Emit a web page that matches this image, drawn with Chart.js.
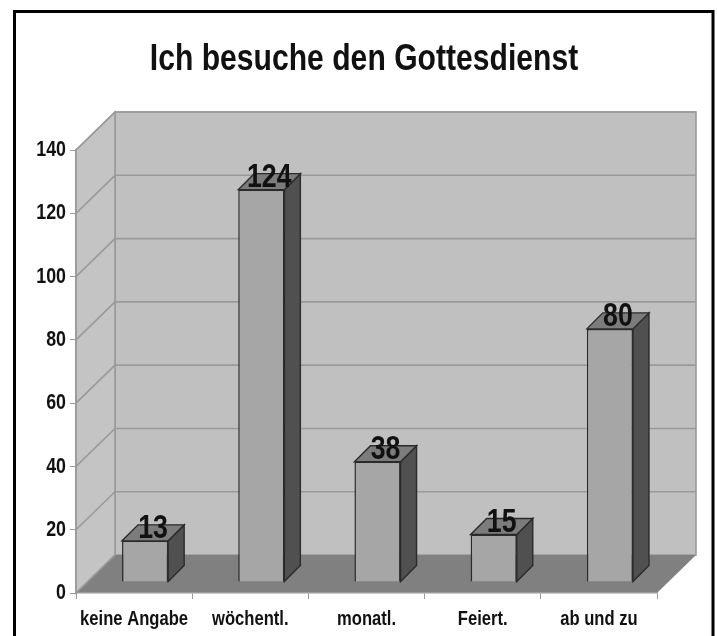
<!DOCTYPE html>
<html><head><meta charset="utf-8">
<script src="https://cdn.jsdelivr.net/npm/chart.js@4"></script>
<style>
html,body{margin:0;padding:0;background:#fff}
#wrap{position:relative;width:717px;height:636px;overflow:hidden}
canvas{filter:blur(0.7px)}
</style></head><body>
<div id="wrap"><canvas id="c" width="717" height="636"></canvas></div>
<script>
const categories = ["keine Angabe","wöchentl.","monatl.","Feiert.","ab und zu"];
const values = [13,124,38,15,80];
const yTicks = [0,20,40,60,80,100,120,140];
const chartTitle = "Ich besuche den Gottesdienst";
const FONT = '"Liberation Sans",Arial,sans-serif';
const NARROW = 0.81;
const WALL_DX = 39, WALL_DY = 38, BAR_OFF = 11, BAR_DEPTH = 16;
const C = {wall:'#c0c0c0', side:'#c4c4c4', floor:'#808080', grid:'#9a9a9a', face:'#a6a6a6', barSide:'#505050', barTop:'#7c7c7c', edge:'#2b2b2b', text:'#111111'};

function poly(ctx, pts, fill, stroke, lw){
  ctx.beginPath();
  pts.forEach((p,i)=> i?ctx.lineTo(p[0],p[1]):ctx.moveTo(p[0],p[1]));
  ctx.closePath();
  if(fill){ctx.fillStyle=fill;ctx.fill();}
  if(stroke){ctx.strokeStyle=stroke;ctx.lineWidth=lw||1;ctx.stroke();}
}
const canvas = document.getElementById('c');
// the reference's type is a condensed Arial: squeeze every text horizontally about its anchor
const rawCtx = canvas.getContext('2d');
const rawFill = rawCtx.fillText.bind(rawCtx);
rawCtx.fillText = function(t,x,y){
  rawCtx.save();rawCtx.translate(x,y);rawCtx.scale(NARROW,1);
  rawFill(t,0,0);
  rawCtx.restore();
};
const scene = {
  id:'scene',
  afterLayout(chart){
    chart.titleBlock.right -= 5;
  },
  beforeDraw(chart){
    const ctx=chart.ctx;
    ctx.save();
    ctx.fillStyle='#fff';ctx.fillRect(0,0,chart.width,chart.height);
    ctx.strokeStyle='#000';ctx.lineWidth=3;
    ctx.strokeRect(14.5,11.5,698.5,640);
    const a=chart.chartArea, y=chart.scales.y;
    const L=a.left,R=a.right,T=a.top,B=a.bottom,dx=WALL_DX,dy=WALL_DY;
    poly(ctx,[[L+dx,T-dy],[R+dx,T-dy],[R+dx,B-dy],[L+dx,B-dy]],C.wall,C.grid,1.6);
    poly(ctx,[[L,T],[L+dx,T-dy],[L+dx,B-dy],[L,B]],C.side,C.grid,1.6);
    poly(ctx,[[L,B],[L+dx,B-dy],[R+dx,B-dy],[R,B]],C.floor);
    ctx.strokeStyle=C.grid;ctx.lineWidth=1.6;
    yTicks.forEach(t=>{
      const p=y.getPixelForValue(t);
      ctx.beginPath();ctx.moveTo(L,p);ctx.lineTo(L+dx,p-dy);
      if(t>0)ctx.lineTo(R+dx,p-dy);
      ctx.stroke();
    });
    ctx.restore();
  },
  beforeDatasetsDraw(chart){
    const ctx=chart.ctx;
    const meta=chart.getDatasetMeta(0);
    ctx.save();
    ctx.translate(BAR_OFF,-BAR_OFF);
    meta.data.forEach(b=>{
      const l=b.x-b.width/2,r=b.x+b.width/2,t=b.y,bo=b.base,d=BAR_DEPTH;
      poly(ctx,[[r,t],[r+d,t-d],[r+d,bo-d],[r,bo]],C.barSide,C.edge,1.4);
      poly(ctx,[[l,t],[l+d,t-d],[r+d,t-d],[r,t]],C.barTop,C.edge,1.4);
    });
  },
  afterDatasetsDraw(chart){
    const ctx=chart.ctx;
    ctx.restore();
    ctx.save();
    ctx.font='bold 33px '+FONT;
    ctx.fillStyle=C.text;ctx.textAlign='center';ctx.textBaseline='alphabetic';
    chart.getDatasetMeta(0).data.forEach((b,i)=>{
      ctx.fillText(String(values[i]),b.x+BAR_OFF+8,b.y-BAR_OFF-3);
    });
    ctx.restore();
  }
};
new Chart(canvas,{
  type:'bar',
  data:{labels:categories,datasets:[{data:values,backgroundColor:C.face,borderColor:C.edge,borderWidth:1.5,categoryPercentage:1,barPercentage:0.397}]},
  plugins:[scene],
  options:{
    responsive:false,animation:false,
    layout:{padding:{left:0,right:60,top:0,bottom:0}},
    plugins:{
      legend:{display:false},tooltip:{enabled:false},
      title:{display:true,fullSize:false,text:chartTitle,color:'#111',font:{family:FONT,size:37.2,weight:'bold'},padding:{top:37,bottom:68.4}}
    },
    scales:{
      x:{
        afterFit(s){s.height=43;},
        grid:{drawOnChartArea:false,drawTicks:true,tickLength:6,color:C.grid,offset:true},
        border:{color:C.grid,width:1.5},
        ticks:{color:C.text,font:{family:FONT,size:20.5,weight:'bold'},padding:8,maxRotation:0,autoSkip:false}
      },
      y:{
        min:0,max:140,
        afterFit(s){s.width=76;},
        afterBuildTicks(s){s.ticks=yTicks.map(v=>({value:v}));},
        grid:{drawOnChartArea:false,drawTicks:true,tickLength:6,color:C.grid},
        border:{color:C.grid,width:1.5},
        ticks:{color:C.text,font:{family:FONT,size:22,weight:'bold'},padding:4}
      }
    }
  }
});
</script></body></html>
